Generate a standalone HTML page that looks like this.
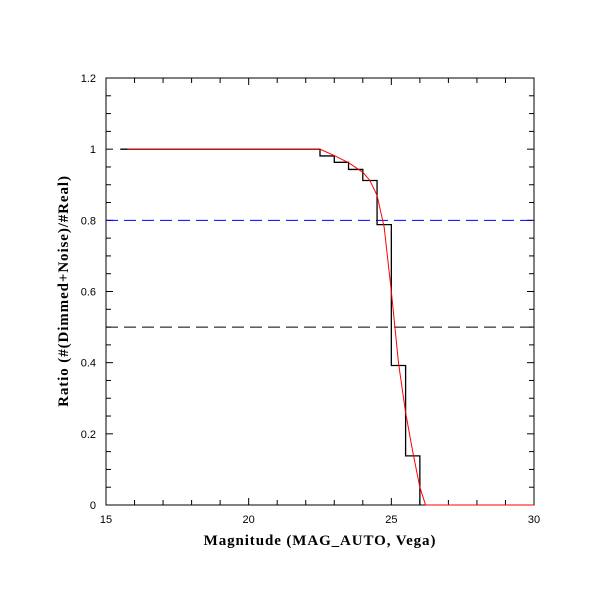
<!DOCTYPE html>
<html><head><meta charset="utf-8"><style>
html,body{margin:0;padding:0;background:#fff;}
svg{display:block;}
text{font-family:"Liberation Sans",sans-serif;font-size:11px;fill:#000;}
.lab{font-family:"Liberation Serif",serif;font-size:15px;font-weight:bold;letter-spacing:0.9px;}
</style></head><body>
<svg id="chart" width="611" height="611" viewBox="0 0 611 611"></svg>
<script>
const histEdges = [15.5,16,16.5,17,17.5,18,18.5,19,19.5,20,20.5,21,21.5,22,22.5,23,23.5,24,24.5,25,25.5,26];
const histValues = [1,1,1,1,1,1,1,1,1,1,1,1,1,1,0.981,0.963,0.943,0.912,0.788,0.392,0.138];
const fitMag = [15.75,22.5,23,23.5,24,24.25,24.5,24.75,25,25.25,25.5,25.75,26,26.2,30];
const fitRatio = [1,1,0.982,0.962,0.935,0.912,0.87,0.78,0.6,0.4,0.26,0.15,0.05,0,0];
const xTicks = [15,20,25,30];
const yTicks = [0,0.2,0.4,0.6,0.8,1,1.2];
const refLines = [0.8,0.5];

const NS="http://www.w3.org/2000/svg";
const svg=document.getElementById('chart');
const X0=106,X1=534,Y0=505,Y1=78;
const xs=v=>X0+(v-15)/15*(X1-X0);
const ys=v=>Y0-(v/1.2)*(Y0-Y1);
function el(t,a,p){const e=document.createElementNS(NS,t);for(const k in a)e.setAttribute(k,a[k]);(p||svg).appendChild(e);return e;}

const frame=el('rect',{x:X0,y:Y1,width:X1-X0,height:Y0-Y1,fill:'none',stroke:'#000','stroke-width':1});



const tg=el('g',{stroke:'#000','stroke-width':1});


for(let m=15;m<=30;m++){const maj=m%5===0;const L=maj?7:5;const x=xs(m);
 el('line',{x1:x,y1:Y0,x2:x,y2:Y0-L},tg);el('line',{x1:x,y1:Y1,x2:x,y2:Y1+L},tg);}
for(let i=0;i<=24;i++){const v=i*0.05;const maj=i%4===0;const L=maj?7:5;const y=ys(v);
 el('line',{x1:X0,y1:y,x2:X0+L,y2:y},tg);el('line',{x1:X1,y1:y,x2:X1-L,y2:y},tg);}
xTicks.forEach(v=>{const t=el('text',{x:xs(v),y:Y0+18,'text-anchor':'middle'});t.textContent=v;
 });
yTicks.forEach(v=>{const t=el('text',{x:X0-10,y:ys(v)+4,'text-anchor':'end'});t.textContent=v;
 });

refLines.forEach((v,i)=>{const l=el('line',{x1:X0,y1:ys(v),x2:X1,y2:ys(v),stroke:i===0?'#0000ff':'#000','stroke-width':1,'stroke-dasharray':'12,6'});
 });

let d='M'+xs(histEdges[0])+','+ys(histValues[0]);
for(let i=0;i<histValues.length;i++){
 if(i>0)d+=' L'+xs(histEdges[i])+','+ys(histValues[i]);
 d+=' L'+xs(histEdges[i+1])+','+ys(histValues[i]);
}
d+=' L'+xs(histEdges[histEdges.length-1])+','+ys(0);
const h=el('path',{d:d,fill:'none',stroke:'#000','stroke-width':1.3});



const fp=el('polyline',{points:fitMag.map((m,i)=>xs(m)+','+ys(fitRatio[i])).join(' '),fill:'none',stroke:'#ff0000','stroke-width':1});



const xl=el('text',{x:320,y:545,'text-anchor':'middle',class:'lab'});xl.textContent='Magnitude (MAG_AUTO, Vega)';

const yl=el('text',{x:0,y:0,'text-anchor':'middle',class:'lab',transform:'translate(68,291) rotate(-90)'});yl.textContent='Ratio (#(Dimmed+Noise)/#Real)';

</script>
</body></html>
